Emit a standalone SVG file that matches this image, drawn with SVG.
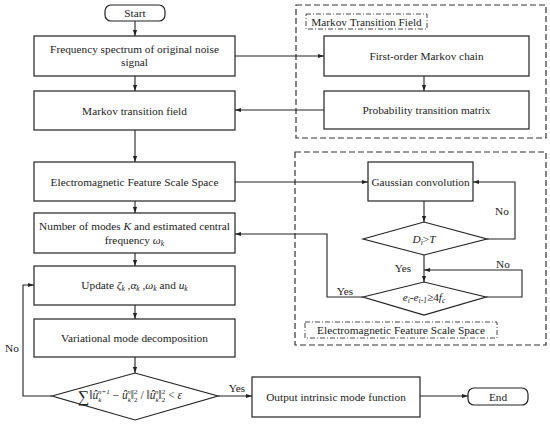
<svg xmlns="http://www.w3.org/2000/svg" width="550" height="424" viewBox="0 0 550 424">
<defs>
<marker id="ah" viewBox="0 0 10 10" refX="10" refY="5" markerWidth="6" markerHeight="6" orient="auto" markerUnits="userSpaceOnUse"><path d="M0,1.5 L10,5 L0,8.5 Z" fill="#222"/></marker>
<style>
.b{fill:#fff;stroke:#222;stroke-width:1.2}
.t{font-family:'Liberation Serif','DejaVu Serif',serif;font-size:11.3px;fill:#222;text-anchor:middle}
.i{font-style:italic}
.s{font-size:7.5px}
.c{fill:none;stroke:#222;stroke-width:1.1}
.dash{fill:none;stroke:#333;stroke-width:1.2;stroke-dasharray:6,3}
.dd{fill:none;stroke:#333;stroke-width:0.9;stroke-dasharray:5,2,1,2}
</style>
</defs>
<rect width="550" height="424" fill="#fff"/>
<rect class="dash" x="296" y="5" width="250" height="133"/>
<rect class="dash" x="295" y="152" width="251" height="193"/>
<g id="lbl1"><rect class="dd" x="306" y="14" width="121" height="15"/><text class="t" x="366.5" y="25.5">Markov Transition Field</text></g>
<g id="lbl2"><rect class="dd" x="305" y="322" width="192" height="16"/><text class="t" x="401" y="334">Electromagnetic Feature Scale Space</text></g>
<g id="connectors">
<path class="c" marker-end="url(#ah)" d="M135,21 V36"/>
<path class="c" marker-end="url(#ah)" d="M135,76 V91"/>
<path class="c" marker-end="url(#ah)" d="M135,130 V162"/>
<path class="c" marker-end="url(#ah)" d="M135,201 V213"/>
<path class="c" marker-end="url(#ah)" d="M135,253 V266"/>
<path class="c" marker-end="url(#ah)" d="M135,305 V319"/>
<path class="c" marker-end="url(#ah)" d="M135,357 V373"/>
<path class="c" marker-end="url(#ah)" d="M235,56 H324"/>
<path class="c" marker-end="url(#ah)" d="M424,76 V91"/>
<path class="c" marker-end="url(#ah)" d="M324,110 H235"/>
<path class="c" marker-end="url(#ah)" d="M235,182 H368"/>
<path class="c" marker-end="url(#ah)" d="M424,201 V222"/>
<path class="c" marker-end="url(#ah)" d="M487,239 H515 V182 H473"/>
<path class="c" marker-end="url(#ah)" d="M424,255 V282"/>
<path class="c" marker-end="url(#ah)" d="M486,297 H522 V270 H424"/>
<path class="c" marker-end="url(#ah)" d="M363,297 H327 V234 H235"/>
<path class="c" marker-end="url(#ah)" d="M52,396 H23 V285 H34"/>
<path class="c" marker-end="url(#ah)" d="M218,396 H252"/>
<path class="c" marker-end="url(#ah)" d="M420,396 H468"/>
<text class="t" x="502" y="215">No</text>
<text class="t" x="403" y="272">Yes</text>
<text class="t" x="503" y="268">No</text>
<text class="t" x="345" y="295">Yes</text>
<text class="t" x="12" y="352">No</text>
<text class="t" x="237" y="392">Yes</text>
</g>
<g id="start"><rect class="b" x="105" y="5" width="60" height="16" rx="6"/><text class="t" x="135" y="17">Start</text></g>
<g id="freq"><rect class="b" x="34" y="36" width="201" height="40"/><text class="t" x="134.5" y="53">Frequency spectrum of original noise</text><text class="t" x="134.5" y="66">signal</text></g>
<g id="mtf"><rect class="b" x="34" y="91" width="201" height="39"/><text class="t" x="134.5" y="114.5">Markov transition field</text></g>
<g id="efss"><rect class="b" x="34" y="162" width="201" height="39"/><text class="t" x="134.5" y="185.5">Electromagnetic Feature Scale Space</text></g>
<g id="modes"><rect class="b" x="34" y="213" width="201" height="40"/><text class="t" x="134.5" y="230">Number of modes <tspan class="i">K</tspan> and estimated central</text><text class="t" x="134.5" y="244">frequency <tspan class="i">ω</tspan><tspan class="i s" dy="2">k</tspan></text></g>
<g id="update"><rect class="b" x="34" y="266" width="201" height="39"/><text class="t" x="134.5" y="289">Update <tspan class="i">ζ</tspan><tspan class="i s" dy="2">k</tspan><tspan dy="-2"> ,</tspan><tspan class="i">α</tspan><tspan class="i s" dy="2">k</tspan><tspan dy="-2"> ,</tspan><tspan class="i">ω</tspan><tspan class="i s" dy="2">k</tspan><tspan dy="-2"> and </tspan><tspan class="i">u</tspan><tspan class="i s" dy="2">k</tspan></text></g>
<g id="vmd"><rect class="b" x="34" y="319" width="201" height="38"/><text class="t" x="134.5" y="342">Variational mode decomposition</text></g>
<g id="conv"><polygon class="b" points="52,396 135,373 218,396 135,420"/><text class="t" style="font-size:11.5px" x="130" y="399"><tspan font-size="16" dy="3">∑</tspan><tspan dy="-3">‖</tspan><tspan class="i">û</tspan><tspan class="i" font-size="7" dy="3">k</tspan><tspan class="i" font-size="7" dx="-3.5" dy="-8">n+1</tspan><tspan dy="5"> − </tspan><tspan class="i">û</tspan><tspan class="i" font-size="7" dy="3">k</tspan><tspan class="i" font-size="7" dx="-3.5" dy="-8">n</tspan><tspan dy="5">‖</tspan><tspan font-size="7" dy="3">2</tspan><tspan font-size="7" dx="-3.5" dy="-8">2</tspan><tspan dy="5"> / ‖</tspan><tspan class="i">û</tspan><tspan class="i" font-size="7" dy="3">k</tspan><tspan class="i" font-size="7" dx="-3.5" dy="-8">n</tspan><tspan dy="5">‖</tspan><tspan font-size="7" dy="3">2</tspan><tspan font-size="7" dx="-3.5" dy="-8">2</tspan><tspan dy="5"> &lt; </tspan><tspan class="i">ε</tspan></text></g>
<g id="output"><rect class="b" x="252" y="377" width="168" height="40"/><text class="t" x="336" y="400.5">Output intrinsic mode function</text></g>
<g id="end"><rect class="b" x="468" y="388" width="60" height="17" rx="6"/><text class="t" x="498" y="400.5">End</text></g>
<g id="fomc"><rect class="b" x="324" y="36" width="205" height="40"/><text class="t" x="426.5" y="60">First-order Markov chain</text></g>
<g id="ptm"><rect class="b" x="324" y="91" width="205" height="38"/><text class="t" x="426.5" y="114">Probability transition matrix</text></g>
<g id="gauss"><rect class="b" x="368" y="162" width="105" height="39"/><text class="t" x="420.5" y="185.5">Gaussian convolution</text></g>
<g id="d1"><polygon class="b" points="363,239 424,222 487,239 424,255"/><text class="t" x="424" y="243"><tspan class="i">D</tspan><tspan class="i s" dy="2">i</tspan><tspan dy="-2">&gt;</tspan><tspan class="i">T</tspan></text></g>
<g id="d2"><polygon class="b" points="363,297 424,282 486,297 424,315"/><text class="t" x="424" y="301"><tspan class="i">e</tspan><tspan class="i s" dy="2">i</tspan><tspan dy="-2">-</tspan><tspan class="i">e</tspan><tspan class="i s" dy="2">i-1</tspan><tspan dy="-2">≥4</tspan><tspan class="i">f</tspan><tspan class="i s" dy="2">c</tspan></text></g>
</svg>
